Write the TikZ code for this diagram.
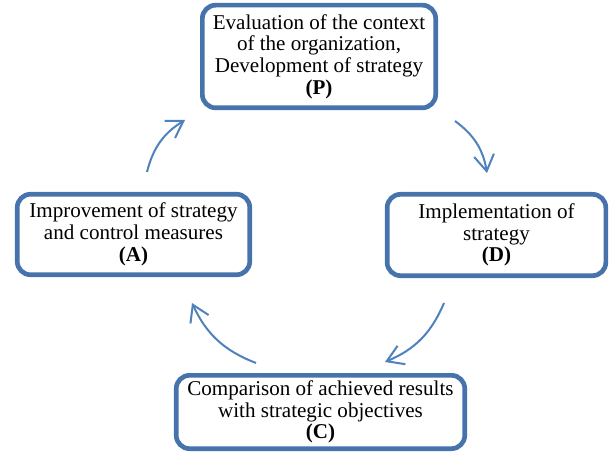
\documentclass[tikz,border=0pt]{standalone}
\usepackage{fontspec}
\setmainfont{Liberation Serif}
\usetikzlibrary{arrows.meta}
\definecolor{boxcol}{RGB}{71,115,172}
\definecolor{arrowcol}{RGB}{79,129,189}

\begin{document}
\begin{tikzpicture}[
			x=0.75pt,
			y=-0.75pt,
			phase/.style={
				draw=boxcol,
				line width=3.5pt,
				rounded corners=10pt,
				fill=white,
				align=center,
				inner sep=0pt,
				font=\fontsize{15.8}{16.3}\selectfont
			},
			cycle/.style={
				draw=arrowcol,
				line width=1.5pt,
				-{Straight Barb[length=12pt,width=15pt,line width=1.5pt]},
				bend left=22
			}
			]
			\useasboundingbox (0,0) rectangle (609,452);

			% Phases
			\node[phase, minimum width=175pt, minimum height=77pt] (P) at (319,56.5)
				{Evaluation of the context\\of the organization,\\Development of strategy\\\textbf{(P)}};
			\node[phase, minimum width=164pt, minimum height=61pt] (D) at (496.5,235)
				{Implementation of\\strategy\\\textbf{(D)}};
			\node[phase, minimum width=216.4pt, minimum height=55pt] (C) at (320.5,412)
				{Comparison of achieved results\\with strategic objectives\\\textbf{(C)}};
			\node[phase, minimum width=174.4pt, minimum height=60.4pt] (A) at (133.5,234.5)
				{Improvement of strategy\\and control measures\\\textbf{(A)}};

			% Arrow ends
			\coordinate (a1) at (147,172);
			\coordinate (p1) at (185,120);
			\coordinate (p2) at (455,121);
			\coordinate (d1) at (487,173);
			\coordinate (d2) at (444,303);
			\coordinate (c1) at (385,362);
			\coordinate (c2) at (256,363);
			\coordinate (a2) at (192,303);

			% Cycle
			\draw[cycle] (a1) to (p1);
			\draw[cycle] (p2) to (d1);
			\draw[cycle] (d2) to (c1);
			\draw[cycle] (c2) to (a2);
		\end{tikzpicture}
\end{document}
